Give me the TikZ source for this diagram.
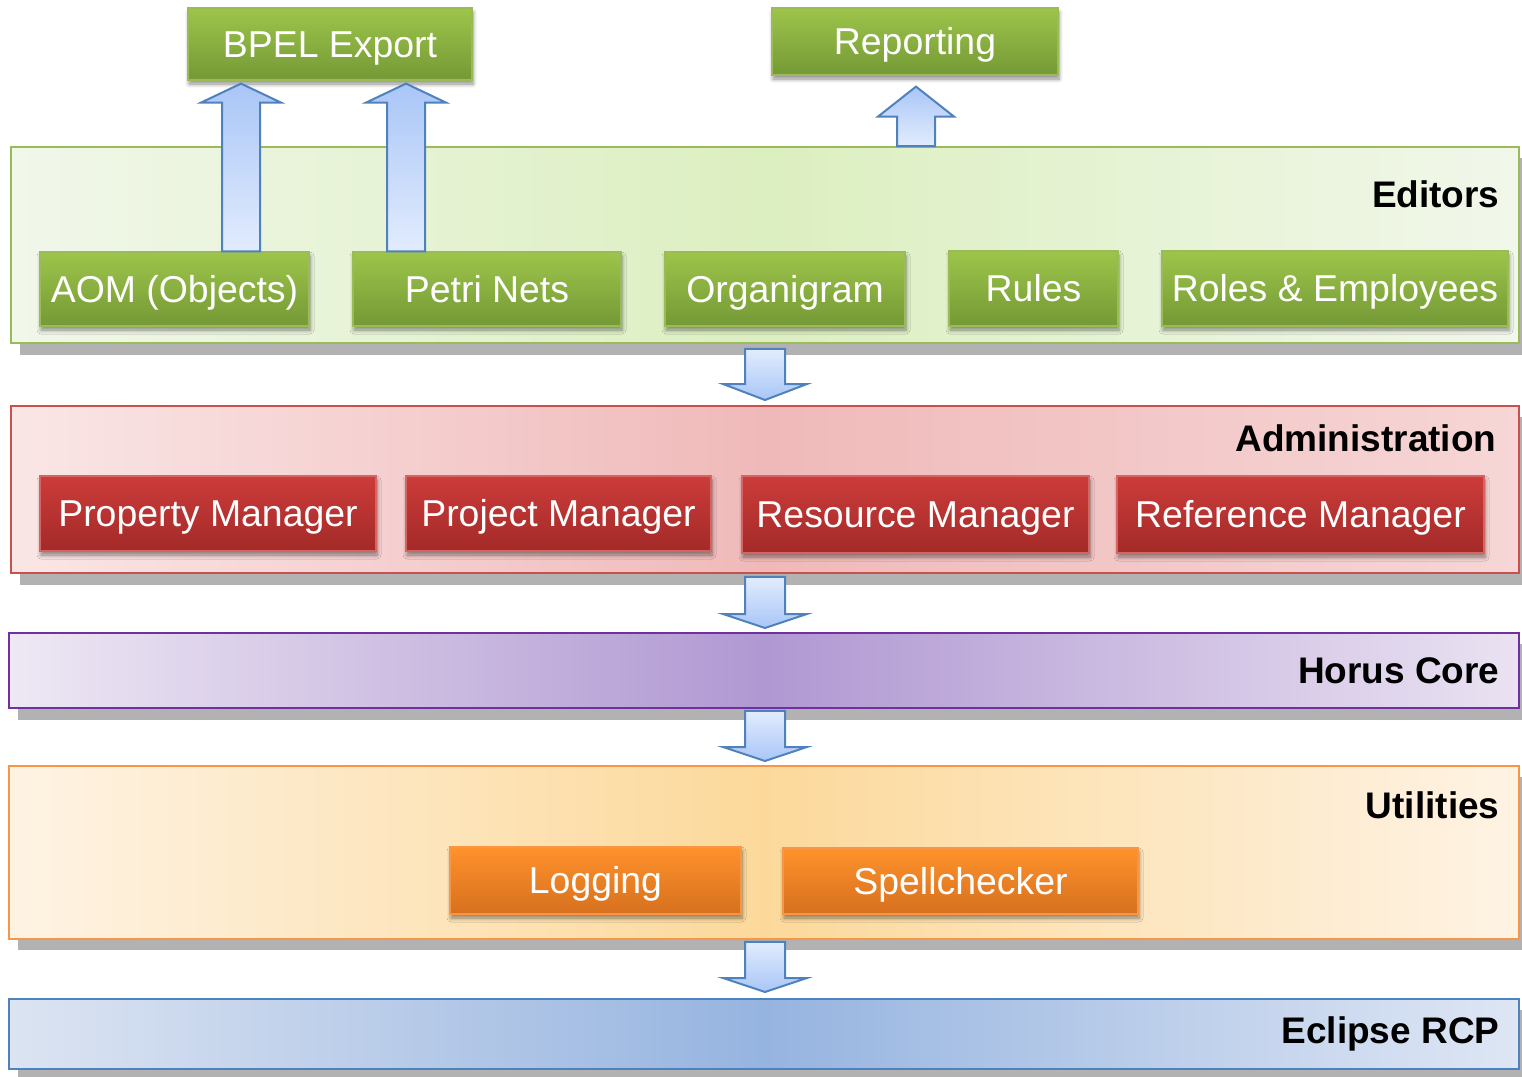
\documentclass[tikz,border=0pt]{standalone}
\usepackage{fontspec}
\setmainfont{Liberation Sans}
\usetikzlibrary{calc,shadows,shadows.blur}
\definecolor{edgeB}{HTML}{4F81BD}
\definecolor{arrLight}{HTML}{E2ECFD}
\definecolor{arrDark}{HTML}{A9C6F7}
\tikzset{
  box/.style={line width=1.2pt, inner sep=0pt,
    text=white, font=\fontsize{37.4}{44}\selectfont, text height=28pt, text depth=2pt,
    blur shadow={shadow xshift=1pt, shadow yshift=-4pt, shadow blur radius=4pt, shadow blur steps=6, shadow opacity=45}},
  greenbox/.style={box, top color={rgb,255:red,157;green,197;blue,74}, bottom color={rgb,255:red,116;green,153;blue,54}, draw={rgb,255:red,155;green,187;blue,89}},
  redbox/.style={box, top color={rgb,255:red,204;green,60;blue,58}, bottom color={rgb,255:red,163;green,42;blue,40}, draw={rgb,255:red,214;green,100;blue,98}},
  orangebox/.style={box, top color={rgb,255:red,255;green,146;blue,44}, bottom color={rgb,255:red,214;green,112;blue,30}, draw={rgb,255:red,247;green,150;blue,70}},
  layer/.style={line width=1.8pt, inner sep=0pt, anchor=north west},
  laylabel/.style={font=\bfseries\fontsize{37}{44}\selectfont, anchor=east, text=black},
  shad/.style={fill=black!30},
  arrup/.style={draw=edgeB, line width=2pt, line join=miter, top color=arrDark, bottom color=arrLight},
  arrdown/.style={draw=edgeB, line width=2pt, line join=miter, top color=arrLight, bottom color=arrDark},
}
% #1 style, #2 base coordinate, #3 tip coordinate, #4 half shaft, #5 half head, #6 head length (signed)
\newcommand\blockarrow[6]{%
  \path[#1] ($(#2)+(-#4,0)$) -- ($(#3)+(-#4,#6)$) -- ($(#3)+(-#5,#6)$) -- (#3)
    -- ($(#3)+(#5,#6)$) -- ($(#3)+(#4,#6)$) -- ($(#2)+(#4,0)$) -- cycle;}
\begin{document}
\begin{tikzpicture}[x=1pt,y=-1pt]
\useasboundingbox (0,0) rectangle (1522,1076);
\clip (0,0) rectangle (1522,1076);

% ---------- layer shadows ----------
\fill[shad] (20,158) rectangle (1530,355);
\fill[shad] (20,417) rectangle (1530,585);
\fill[shad] (18,644) rectangle (1530,720);
\fill[shad] (18,777) rectangle (1530,950);
\fill[shad] (18,1010) rectangle (1530,1080);

% ---------- layers ----------
\node[layer, draw={rgb,255:red,155;green,187;blue,89},
  left color={rgb,255:red,241;green,247;blue,234}, right color={rgb,255:red,241;green,247;blue,234},
  middle color={rgb,255:red,220;green,239;blue,192},
  minimum width=1508pt, minimum height=196pt] (editors) at (10,146) {};
\node[layer, draw={rgb,255:red,200;green,80;blue,77},
  left color={rgb,255:red,250;green,230;blue,230}, right color={rgb,255:red,246;green,214;blue,214},
  middle color={rgb,255:red,240;green,185;blue,185},
  minimum width=1508pt, minimum height=167pt] (admin) at (10,405) {};
\node[layer, draw={rgb,255:red,112;green,48;blue,160},
  left color={rgb,255:red,238;green,232;blue,244}, right color={rgb,255:red,234;green,226;blue,242},
  middle color={rgb,255:red,176;green,152;blue,210},
  minimum width=1510pt, minimum height=75pt] (core) at (8,632) {};
\node[layer, draw={rgb,255:red,247;green,150;blue,70},
  left color={rgb,255:red,254;green,243;blue,228}, right color={rgb,255:red,254;green,243;blue,228},
  middle color={rgb,255:red,252;green,217;blue,155},
  minimum width=1510pt, minimum height=173pt] (util) at (8,765) {};
\node[layer, draw=edgeB,
  left color={rgb,255:red,220;green,228;blue,242}, right color={rgb,255:red,222;green,230;blue,244},
  middle color={rgb,255:red,150;green,180;blue,224},
  minimum width=1510pt, minimum height=70pt] (rcp) at (8,998) {};

% ---------- layer labels ----------
\node[laylabel] (leditors) at (1503,194) {Editors};
\node[laylabel] (ladmin) at (1500,438) {Administration};
\node[laylabel] (lcore) at (1503,671) {Horus Core};
\node[laylabel] (lutil) at (1503,805) {Utilities};
\node[laylabel] (lrcp) at (1503,1034) {Eclipse RCP};

% ---------- top boxes ----------
\node[greenbox, minimum width=284pt, minimum height=72pt] (bpel) at (330,44) {BPEL Export};
\node[greenbox, minimum width=286pt, minimum height=67pt] (report) at (915,41.5) {Reporting};

% ---------- editors ----------
\node[greenbox, minimum width=269pt, minimum height=74pt] (aom) at (174.5,289) {AOM (Objects)};
\node[greenbox, minimum width=268pt, minimum height=74pt] (petri) at (487,289) {Petri Nets};
\node[greenbox, minimum width=240pt, minimum height=74pt] (organ) at (785,289) {Organigram};
\node[greenbox, minimum width=169pt, minimum height=75pt] (rules) at (1033.5,288.5) {Rules};
\node[greenbox, minimum width=346pt, minimum height=75pt] (roles) at (1335,288.5) {Roles \& Employees};

% ---------- administration ----------
\node[redbox, minimum width=336pt, minimum height=75pt] (prop) at (208,513.5) {Property Manager};
\node[redbox, minimum width=305pt, minimum height=75pt] (proj) at (558.5,513.5) {Project Manager};
\node[redbox, minimum width=347pt, minimum height=77pt] (res) at (915.5,514.5) {Resource Manager};
\node[redbox, minimum width=367pt, minimum height=77pt] (ref) at (1300.5,514.5) {Reference Manager};

% ---------- utilities ----------
\node[orangebox, minimum width=291pt, minimum height=67pt] (log) at (595.5,880.5) {Logging};
\node[orangebox, minimum width=355pt, minimum height=66pt] (spell) at (960.5,881) {Spellchecker};

% ---------- up arrows ----------
\coordinate (u1b) at (241,0 |- aom.north);
\coordinate (u1t) at ($(241,0 |- bpel.south)+(0,3)$);
\coordinate (u2b) at (406,0 |- petri.north);
\coordinate (u2t) at ($(406,0 |- bpel.south)+(0,3)$);
\coordinate (u3b) at (916,0 |- editors.north);
\coordinate (u3t) at ($(916,0 |- report.south)+(0,11)$);
\blockarrow{arrup}{u1b}{u1t}{19}{40}{19}
\blockarrow{arrup}{u2b}{u2t}{19}{40}{19}
\blockarrow{arrup}{u3b}{u3t}{19}{38}{30}

% ---------- down arrows ----------
\coordinate (d1b) at ($(765,0 |- editors.south)+(0,5)$);
\coordinate (d1t) at ($(765,0 |- admin.north)+(0,-5)$);
\coordinate (d2b) at ($(765,0 |- admin.south)+(0,3)$);
\coordinate (d2t) at ($(765,0 |- core.north)+(0,-4)$);
\coordinate (d3b) at ($(765,0 |- core.south)+(0,2)$);
\coordinate (d3t) at ($(765,0 |- util.north)+(0,-4)$);
\coordinate (d4b) at ($(765,0 |- util.south)+(0,2)$);
\coordinate (d4t) at ($(765,0 |- rcp.north)+(0,-6)$);
\blockarrow{arrdown}{d1b}{d1t}{20}{42}{-16}
\blockarrow{arrdown}{d2b}{d2t}{20}{42}{-14}
\blockarrow{arrdown}{d3b}{d3t}{20}{42}{-14}
\blockarrow{arrdown}{d4b}{d4t}{20}{42}{-14}
\end{tikzpicture}
\end{document}
